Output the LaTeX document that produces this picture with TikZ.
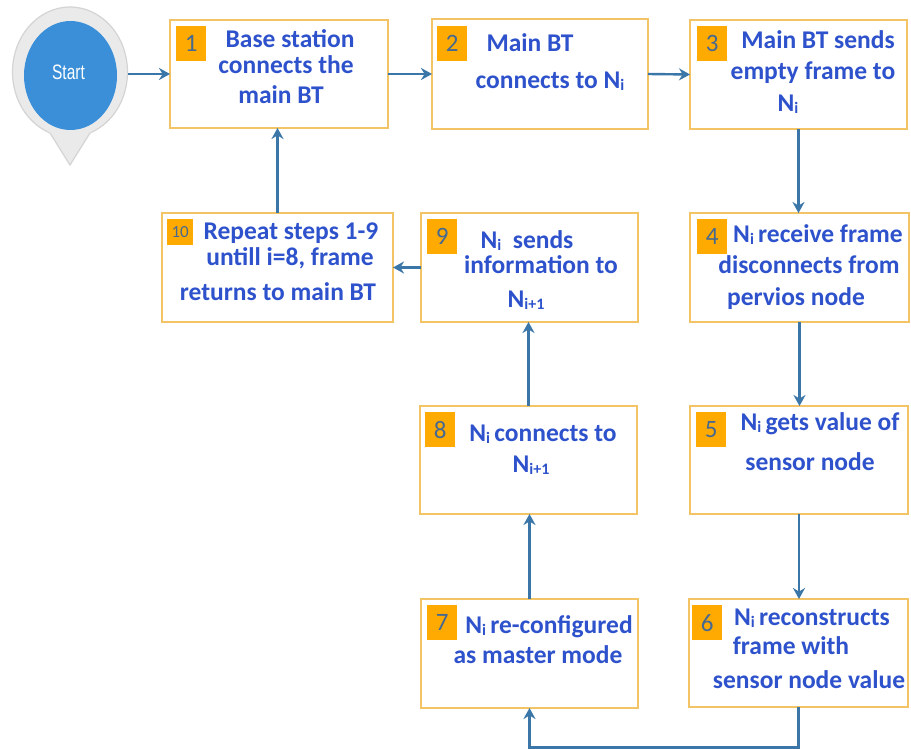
\documentclass[tikz,border=0pt]{standalone}
\usepackage{fontspec}
\setmainfont{Carlito}
\newfontfamily\startfont{Liberation Sans}
\usetikzlibrary{arrows.meta,shapes.geometric,calc}
\definecolor{boxc}{RGB}{242,196,102}
\definecolor{badgec}{RGB}{255,170,0}
\definecolor{numc}{RGB}{70,105,145}
\definecolor{txtc}{RGB}{46,82,204}
\definecolor{arrc}{RGB}{58,118,168}
\definecolor{pinfill}{RGB}{234,234,234}
\definecolor{pinline}{RGB}{212,212,212}
\definecolor{startc}{RGB}{58,143,216}
\newcommand{\NI}{N{\fontsize{16}{16}\selectfont\raisebox{-2pt}{i}}}
\newcommand{\NIp}{N{\fontsize{16}{16}\selectfont\raisebox{-2pt}{i+1}}}
\tikzset{
  box/.style={draw=boxc, line width=2pt, fill=white, inner sep=0pt, outer sep=0pt},
  badge/.style={fill=badgec, draw=none, inner sep=0pt, minimum width=30pt, minimum height=35pt, anchor=north west,
     text=numc, font=\fontsize{25}{25}\selectfont},
  txt/.style={text=txtc, font=\fontsize{25.5}{28}\selectfont\bfseries, anchor=base, inner sep=0pt},
  flow/.style={draw=arrc, line width=2.4pt, -{Stealth[length=11pt,width=12pt]}},
}
\begin{document}
\begin{tikzpicture}[x=1pt,y=-1pt]
\useasboundingbox (0,0) rectangle (911,749);
\fill[white] (0,0) rectangle (911,749);

% start pin
\node[ellipse, draw=pinline, fill=pinfill, line width=1.2pt, minimum width=115pt, minimum height=130pt, inner sep=0pt] (pin) at (70,72) {};
\fill[pinfill] (48,130) -- (92,130) -- (70,165) -- cycle;
\draw[pinline, line width=1.2pt] (50,133) -- (70,165) -- (90,133);
\node[ellipse, fill=startc, minimum width=93pt, minimum height=109pt, inner sep=0pt] (start) at (70.5,75.5) {};
\node[text=white, font=\startfont\fontsize{15.5}{15}\selectfont, inner sep=0pt] (starttxt) at (68.5,72.5) {\scalebox{1}[1.35]{Start}};

% boxes
\node[box, minimum width=218pt, minimum height=108pt] (b1) at (279,74) {};
\node[box, minimum width=216pt, minimum height=110pt] (b2) at (540,74) {};
\node[box, minimum width=217pt, minimum height=109pt] (b3) at (798.5,74.5) {};
\node[box, minimum width=231pt, minimum height=109pt] (b10) at (277.5,267.5) {};
\node[box, minimum width=217pt, minimum height=109pt] (b9) at (529.5,267.5) {};
\node[box, minimum width=219pt, minimum height=109pt] (b4) at (799.5,267.5) {};
\node[box, minimum width=217pt, minimum height=108pt] (b8) at (528.5,460) {};
\node[box, minimum width=218pt, minimum height=108pt] (b5) at (799,460) {};
\node[box, minimum width=217pt, minimum height=109pt] (b7) at (529.5,653.5) {};
\node[box, minimum width=219pt, minimum height=108pt] (b6) at (798.5,653) {};

% badges
\node[badge] (n1) at ([shift={(6,6)}]b1.north west) {1};
\node[badge] (n2) at ([shift={(5,7)}]b2.north west) {2};
\node[badge] (n3) at ([shift={(7,6)}]b3.north west) {3};
\node[badge, minimum width=26pt, minimum height=26pt, font=\fontsize{17}{17}\selectfont] (n10) at ([shift={(5,6)}]b10.north west) {10};
\node[badge] (n9) at ([shift={(6,6)}]b9.north west) {9};
\node[badge] (n4) at ([shift={(7,6)}]b4.north west) {4};
\node[badge] (n8) at ([shift={(5,6)}]b8.north west) {8};
\node[badge] (n5) at ([shift={(6,6)}]b5.north west) {5};
\node[badge] (n7) at ([shift={(6,6)}]b7.north west) {7};
\node[badge] (n6) at ([shift={(3,6)}]b6.north west) {6};

% texts
\node[txt] (t1a) at (290,48) {Base station};
\node[txt] (t1b) at (286,74) {connects the};
\node[txt] (t1c) at (281,104) {main BT};

\node[txt] (t2a) at (530,52) {Main BT};
\node[txt] (t2b) at (550,89) {connects to \NI};

\node[txt] (t3a) at (818,49) {Main BT sends};
\node[txt] (t3b) at (813,80) {empty frame to};
\node[txt] (t3c) at (788,112) {\NI};

\node[txt] (t10a) at (291,240) {Repeat steps 1-9};
\node[txt] (t10b) at (290,265) {untill i=8, frame};
\node[txt] (t10c) at (278,300) {returns to main BT};

\node[txt] (t9a) at (527,248) {\NI\ \ sends};
\node[txt] (t9b) at (541,273) {information to};
\node[txt] (t9c) at (526,307) {\NIp};

\node[txt] (t4a) at (818,242) {\NI\,receive frame};
\node[txt] (t4b) at (809,273) {disconnects from};
\node[txt] (t4c) at (796,305) {pervios node};

\node[txt] (t8a) at (543,441) {\NI\,connects to};
\node[txt] (t8b) at (531,472) {\NIp};

\node[txt] (t5a) at (820,430) {\NI\,gets value of};
\node[txt] (t5b) at (810,470) {sensor node};

\node[txt] (t7a) at (549,633) {\NI\,re-configured};
\node[txt] (t7b) at (538,663) {as master mode};

\node[txt] (t6a) at (812,625) {\NI\,reconstructs};
\node[txt] (t6b) at (791,654) {frame with};
\node[txt] (t6c) at (809,688) {sensor node value};

% connectors
\coordinate (c67) at (798.5,747.5);
\draw[flow] (pin.east |- b1.west) -- (b1.west);
\draw[flow] (b1.east) -- (b2.west);
\draw[flow] (b2.east) -- (b3.west);
\draw[flow] (b3.south) -- (b3.south |- b4.north);
\draw[flow] (b4.south) -- (b4.south |- b5.north);
\draw[flow] (b5.south) -- (b5.south |- b6.north);
\draw[flow] (b6.south) -- (c67) -| (b7.south);
\draw[flow] (b7.north) -- (b7.north |- b8.south);
\draw[flow] (b8.north) -- (b8.north |- b9.south);
\draw[flow] (b9.west) -- (b10.east);
\draw[flow] (b10.north) -- (b10.north |- b1.south);
\end{tikzpicture}
\end{document}
